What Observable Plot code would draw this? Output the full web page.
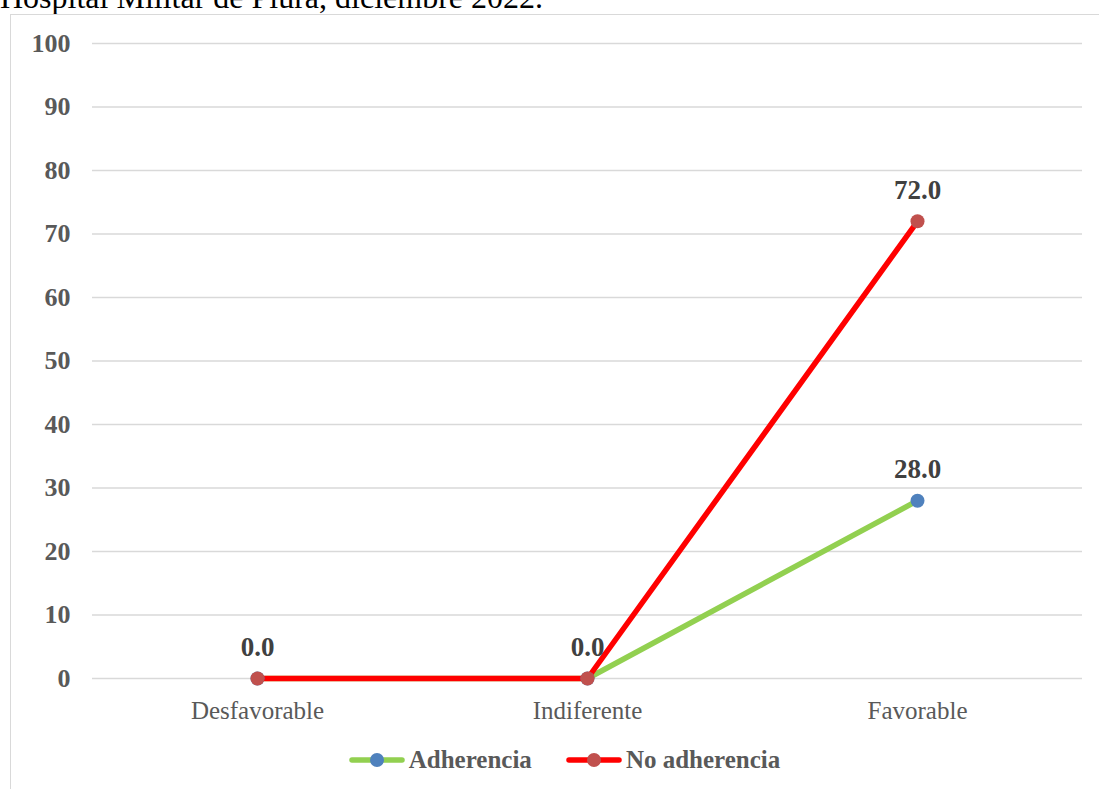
<!DOCTYPE html>
<html>
<head>
<meta charset="utf-8">
<script src="https://cdn.jsdelivr.net/npm/d3@7"></script>
<script src="https://cdn.jsdelivr.net/npm/@observablehq/plot@0.6"></script>
<style>
  html, body { margin: 0; padding: 0; background: #fff; overflow: hidden; }
  body { width: 1099px; height: 789px; position: relative; }
  #title { position: absolute; left: 0; top: -19px; font-family: "Liberation Serif", serif; font-size: 32px; line-height: 32px; color: #000; white-space: nowrap; }
  #frame { position: absolute; left: 10px; top: 14px; width: 1200px; height: 900px; border: 1.5px solid #d9d9d9; box-sizing: border-box; }
  #chart { position: absolute; left: 0; top: 0; }
  #legend { position: absolute; top: 744px; left: 0; width: 1099px; display: flex; justify-content: center; gap: 34px; font-family: "Liberation Serif", serif; font-weight: bold; font-size: 25px; line-height: 32px; color: #595959; padding-left: 30px; box-sizing: border-box; }
  .item { display: flex; align-items: center; gap: 4px; }
  .item svg { display: block; }
</style>
</head>
<body>
<div id="title">Hospital Militar de Piura, diciembre 2022.</div>
<div id="frame"></div>
<div id="chart"></div>
<div id="legend"></div>
<script>
const categories = ["Desfavorable", "Indiferente", "Favorable"];
const adherencia = [0, 0, 28];
const noAdherencia = [0, 0, 72];
const yTicks = [0, 10, 20, 30, 40, 50, 60, 70, 80, 90, 100];
const seriesNames = ["Adherencia", "No adherencia"];
const lineColors = ["#92d050", "#ff0000"];
const dotColors = ["#4f81bd", "#c0504d"];

const rows = [];
[adherencia, noAdherencia].forEach((vals, s) => {
  vals.forEach((v, i) => rows.push({serie: seriesNames[s], cat: categories[i], value: v, s}));
});
// labels: skip a label that would sit exactly on the other series' label
const labelRows = rows.filter(r => !(r.s === 0 && noAdherencia[categories.indexOf(r.cat)] === r.value));

const plot = Plot.plot({
  width: 1099,
  height: 728,
  marginLeft: 92,
  marginRight: 17,
  marginTop: 43,
  marginBottom: 50,
  style: {fontFamily: "Liberation Serif, serif", background: "transparent"},
  x: {type: "point", domain: categories, padding: 0.5, label: null},
  y: {domain: [0, 100], label: null},
  marks: [
    Plot.gridY(yTicks, {stroke: "#d9d9d9", strokeOpacity: 1, strokeWidth: 1.5}),
    Plot.axisY(yTicks, {tickSize: 0, tickPadding: 22, fontSize: 26, fontWeight: "bold", fill: "#595959", tickFormat: d => d}),
    Plot.axisX({tickSize: 0, tickPadding: 23, fontSize: 25, fill: "#595959"}),
    Plot.line(rows.filter(r => r.s === 0), {x: "cat", y: "value", stroke: lineColors[0], strokeWidth: 5.5}),
    Plot.line(rows.filter(r => r.s === 1), {x: "cat", y: "value", stroke: lineColors[1], strokeWidth: 5.5}),
    Plot.dot(rows.filter(r => r.s === 0), {x: "cat", y: "value", r: 7, fill: dotColors[0]}),
    Plot.dot(rows.filter(r => r.s === 1), {x: "cat", y: "value", r: 7, fill: dotColors[1]}),
    Plot.text(labelRows, {x: "cat", y: "value", text: d => d.value.toFixed(1), dy: -31, fontSize: 27, fontWeight: "bold", fill: "#404040"})
  ]
});
document.getElementById("chart").appendChild(plot);

const legend = document.getElementById("legend");
seriesNames.forEach((name, s) => {
  const item = document.createElement("div");
  item.className = "item";
  item.innerHTML = `<svg width="56" height="18"><line x1="3" x2="53" y1="9" y2="9" stroke="${lineColors[s]}" stroke-width="5.5" stroke-linecap="round"/><circle cx="28" cy="9" r="7" fill="${dotColors[s]}"/></svg><span>${name}</span>`;
  legend.appendChild(item);
});
</script>
</body>
</html>
